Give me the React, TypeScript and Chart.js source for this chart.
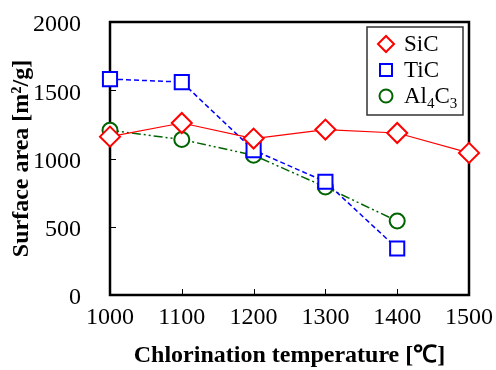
import React, { useEffect, useRef } from "react";
import { Chart, registerables } from "chart.js";

Chart.register(...registerables);

const temps = [1000, 1100, 1200, 1300, 1400, 1500];
const sicValues = [1160, 1260, 1146, 1212, 1187, 1041];
const ticValues = [1582, 1560, 1061, 830, 341];
const alValues = [1207, 1139, 1024, 791, 542];
const xTicks = [1000, 1100, 1200, 1300, 1400, 1500];
const yTicks = [0, 500, 1000, 1500, 2000];

const SERIF = '"Liberation Serif", "Times New Roman", serif';

const toPoints = (vals: number[]) => vals.map((v, i) => ({ x: temps[i], y: v }));

const framePlugin = {
  id: "frame",
  beforeDatasetsDraw(chart: any) {
    const { ctx, chartArea } = chart;
    const { left, right, top, bottom } = chartArea;
    const xs = chart.scales.x;
    const ys = chart.scales.y;
    ctx.save();
    ctx.strokeStyle = "#000";
    ctx.lineWidth = 1;
    xTicks.slice(1, -1).forEach((t) => {
      const px = Math.round(xs.getPixelForValue(t)) + 0.5;
      ctx.beginPath();
      ctx.moveTo(px, bottom);
      ctx.lineTo(px, bottom - 6);
      ctx.stroke();
    });
    yTicks.slice(1, -1).forEach((t) => {
      const py = Math.round(ys.getPixelForValue(t)) + 0.5;
      ctx.beginPath();
      ctx.moveTo(left, py);
      ctx.lineTo(left + 6, py);
      ctx.stroke();
    });
    ctx.lineWidth = 2.5;
    ctx.strokeRect(left, top, right - left, bottom - top);
    ctx.restore();
  },
};

const legendPlugin = {
  id: "customLegend",
  afterDraw(chart: any) {
    const { ctx } = chart;
    ctx.save();
    ctx.fillStyle = "#fff";
    ctx.fillRect(367, 27, 96, 88);
    ctx.strokeStyle = "#333";
    ctx.lineWidth = 1.5;
    ctx.strokeRect(367, 27, 96, 88);
    const mx = 386;
    const tx = 404;
    ctx.lineWidth = 2;
    let y = 44;
    ctx.strokeStyle = "#ff0000";
    ctx.beginPath();
    ctx.moveTo(mx - 8, y);
    ctx.lineTo(mx, y - 8);
    ctx.lineTo(mx + 8, y);
    ctx.lineTo(mx, y + 8);
    ctx.closePath();
    ctx.stroke();
    y = 70;
    ctx.strokeStyle = "#0000ff";
    ctx.strokeRect(mx - 6, y - 6, 12, 12);
    y = 96;
    ctx.strokeStyle = "#006400";
    ctx.beginPath();
    ctx.arc(mx, y, 6.5, 0, Math.PI * 2);
    ctx.stroke();

    ctx.fillStyle = "#000";
    ctx.textBaseline = "alphabetic";
    ctx.textAlign = "left";
    const big = `23px ${SERIF}`;
    const small = `15px ${SERIF}`;
    ctx.font = big;
    ctx.fillText("SiC", tx, 51);
    ctx.fillText("TiC", tx, 77);
    let x = tx;
    const base = 103;
    ctx.fillText("Al", x, base);
    x += ctx.measureText("Al").width;
    ctx.font = small;
    ctx.fillText("4", x, base + 5);
    x += ctx.measureText("4").width;
    ctx.font = big;
    ctx.fillText("C", x, base);
    x += ctx.measureText("C").width;
    ctx.font = small;
    ctx.fillText("3", x, base + 5);
    ctx.restore();
  },
};

const zeroPad = (s: any) => {
  s.paddingTop = 0;
  s.paddingBottom = 0;
  s.paddingLeft = 0;
  s.paddingRight = 0;
};

export default function App() {
  const ref = useRef<HTMLCanvasElement>(null);
  useEffect(() => {
    if (!ref.current) return;
    const chart = new Chart(ref.current, {
      type: "line",
      data: {
        datasets: [
          {
            label: "SiC",
            data: toPoints(sicValues),
            borderColor: "#ff0000",
            backgroundColor: "#ffffff",
            borderWidth: 1.2,
            pointStyle: "rectRot",
            pointRadius: 10,
            pointBorderWidth: 2,
            pointBorderColor: "#ff0000",
            pointBackgroundColor: "#ffffff",
          },
          {
            label: "TiC",
            data: toPoints(ticValues),
            borderColor: "#0000ff",
            backgroundColor: "#ffffff",
            borderWidth: 1.5,
            borderDash: [5, 3],
            pointStyle: "rect",
            pointRadius: 10,
            pointBorderWidth: 2,
            pointBorderColor: "#0000ff",
            pointBackgroundColor: "#ffffff",
          },
          {
            label: "Al4C3",
            data: toPoints(alValues),
            borderColor: "#006400",
            backgroundColor: "#ffffff",
            borderWidth: 1.5,
            borderDash: [9, 3, 2, 3, 2, 3],
            pointStyle: "circle",
            pointRadius: 7.5,
            pointBorderWidth: 2,
            pointBorderColor: "#006400",
            pointBackgroundColor: "#ffffff",
          },
        ],
      },
      options: {
        animation: false,
        responsive: false,
        clip: false as any,
        layout: { padding: { left: 0, top: 22, right: 27, bottom: 0 } },
        plugins: { legend: { display: false }, tooltip: { enabled: false } },
        scales: {
          x: {
            type: "linear",
            min: 1000,
            max: 1500,
            afterFit: (s: any) => {
              s.height = 75;
              zeroPad(s);
            },
            afterBuildTicks: (s: any) => {
              s.ticks = xTicks.map((v) => ({ value: v }));
            },
            grid: { display: false },
            border: { display: false },
            ticks: {
              autoSkip: false,
              maxRotation: 0,
              padding: 0,
              color: "#000",
              font: { family: SERIF, size: 24 },
              callback: (v: any) => String(v),
            },
            title: {
              display: true,
              text: "Chlorination temperature [℃]",
              color: "#000",
              font: { family: SERIF, size: 24, weight: "bold" },
              padding: { top: 0, bottom: 0 },
            },
          },
          y: {
            type: "linear",
            min: 0,
            max: 2000,
            afterFit: (s: any) => {
              s.width = 110;
              zeroPad(s);
            },
            afterBuildTicks: (s: any) => {
              s.ticks = yTicks.map((v) => ({ value: v }));
            },
            grid: { display: false },
            border: { display: false },
            ticks: {
              padding: 21,
              labelOffset: 3,
              color: "#000",
              font: { family: SERIF, size: 24 },
              callback: (v: any) => String(v),
            },
            title: {
              display: true,
              text: "Surface area [m²/g]",
              color: "#000",
              font: { family: SERIF, size: 24, weight: "bold" },
              padding: { top: 7, bottom: 0 },
            },
          },
        },
      },
      plugins: [framePlugin, legendPlugin],
    });
    return () => chart.destroy();
  }, []);
  return (
    <div style={{ position: "fixed", left: 0, top: 0, width: 496, height: 370, background: "#fff" }}>
      <canvas ref={ref} width={496} height={370} />
    </div>
  );
}
